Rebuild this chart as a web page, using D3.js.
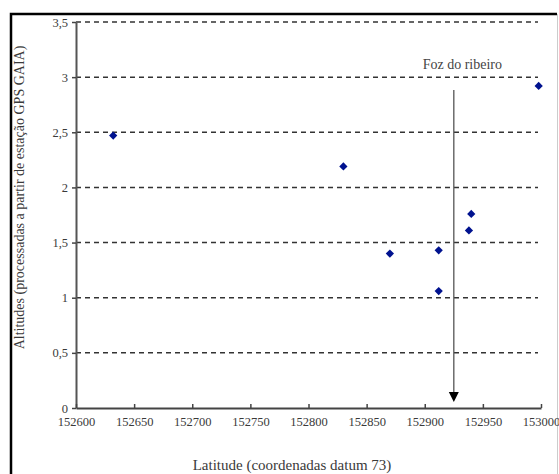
<!DOCTYPE html>
<html>
<head>
<meta charset="utf-8">
<script src="https://cdn.jsdelivr.net/npm/d3@7"></script>
<style>
  body { margin: 0; background: #fff; }
</style>
</head>
<body>
<div id="chart"></div>
<script>
var width = 559,
    height = 474;
var serif = "'Liberation Serif', 'Times New Roman', Times, 'DejaVu Serif', serif";

// data
var latitude = [152632, 152830, 152870, 152912, 152912, 152938, 152940, 152998];
var altitude = [2.47, 2.19, 1.40, 1.43, 1.06, 1.61, 1.76, 2.92];
var xTicks = [152600, 152650, 152700, 152750, 152800, 152850, 152900, 152950, 153000];
var yTicks = [0, 0.5, 1, 1.5, 2, 2.5, 3, 3.5];
var fozLatitude = 152925;
var fozLabel = "Foz do ribeiro";

var margin = {top: 22, right: 18, bottom: 66, left: 76};

var svg = d3.select("#chart").append("svg")
    .attr("width", width)
    .attr("height", height)
    .attr("font-family", serif);

// frame
svg.append("path")
    .attr("d", "M11,474 L11,14 L557,14")
    .attr("fill", "none")
    .attr("stroke", "#000")
    .attr("stroke-width", 2.5);
svg.append("line")
    .attr("x1", 557.5).attr("x2", 557.5)
    .attr("y1", 14).attr("y2", height)
    .attr("stroke", "#ccc")
    .attr("stroke-width", 1);

var xScale = d3.scaleLinear().domain([152600, 153000]).range([margin.left, width - margin.right]);
var yScale = d3.scaleLinear().domain([0, 3.5]).range([height - margin.bottom, margin.top]);

var g = svg.append("g");

// dashed grid
g.selectAll(".grid").data(yTicks.filter(function(d) { return d > 0; }))
  .enter().append("line")
    .attr("class", "grid")
    .attr("x1", xScale(152600))
    .attr("x2", xScale(153000) - 3)
    .attr("y1", function(d) { return yScale(d); })
    .attr("y2", function(d) { return yScale(d); })
    .attr("stroke", "#333")
    .attr("stroke-width", 1.5)
    .attr("stroke-dasharray", "5,4");

var fmt = function(d) { return String(d).replace(".", ","); };

var yAxis = g.append("g")
    .attr("transform", "translate(" + margin.left + ",0)")
    .call(d3.axisLeft(yScale).tickValues(yTicks).tickFormat(fmt).tickSizeInner(4).tickSizeOuter(0).tickPadding(4));

var xAxis = g.append("g")
    .attr("transform", "translate(0," + yScale(0) + ")")
    .call(d3.axisBottom(xScale).tickValues(xTicks).tickFormat(d3.format("d")).tickSizeInner(-4).tickSizeOuter(0).tickPadding(9));

yAxis.select(".domain").attr("stroke", "#555").attr("stroke-width", 2);
xAxis.select(".domain").attr("stroke", "#444").attr("stroke-width", 1.8);
[yAxis, xAxis].forEach(function(a) {
    a.attr("font-family", serif).attr("font-size", 12.5);
    a.selectAll(".tick line").attr("stroke", "#444").attr("stroke-width", 1.5);
    a.selectAll(".tick text").attr("fill", "#3a3a3a");
});

// arrow to Foz do ribeiro
var ax = xScale(fozLatitude);
g.append("line")
    .attr("x1", ax).attr("x2", ax)
    .attr("y1", 90).attr("y2", 394)
    .attr("stroke", "#555")
    .attr("stroke-width", 1.3);
g.append("path")
    .attr("d", "M" + (ax - 5) + ",392 L" + (ax + 5) + ",392 L" + ax + ",402 Z")
    .attr("fill", "#000");
g.append("text")
    .attr("x", ax + 8.5)
    .attr("y", 69)
    .attr("text-anchor", "middle")
    .attr("fill", "#444")
    .attr("font-size", 14)
    .text(fozLabel);

// points
var diamond = d3.symbol().type(d3.symbolSquare).size(34);
g.selectAll(".pt").data(latitude)
  .enter().append("path")
    .attr("class", "pt")
    .attr("d", diamond)
    .attr("transform", function(d, i) {
        return "translate(" + xScale(d) + "," + yScale(altitude[i]) + ") rotate(45)";
    })
    .attr("fill", "#00128f");

// axis titles
svg.append("text")
    .attr("x", 292)
    .attr("y", 470)
    .attr("text-anchor", "middle")
    .attr("fill", "#3a3a3a")
    .attr("font-size", 15)
    .text("Latitude (coordenadas datum 73)");

svg.append("text")
    .attr("transform", "translate(24,197.5) rotate(-90)")
    .attr("text-anchor", "middle")
    .attr("fill", "#3a3a3a")
    .attr("font-size", 14)
    .text("Altitudes (processadas a partir de estação GPS GAIA)");
</script>
</body>
</html>
